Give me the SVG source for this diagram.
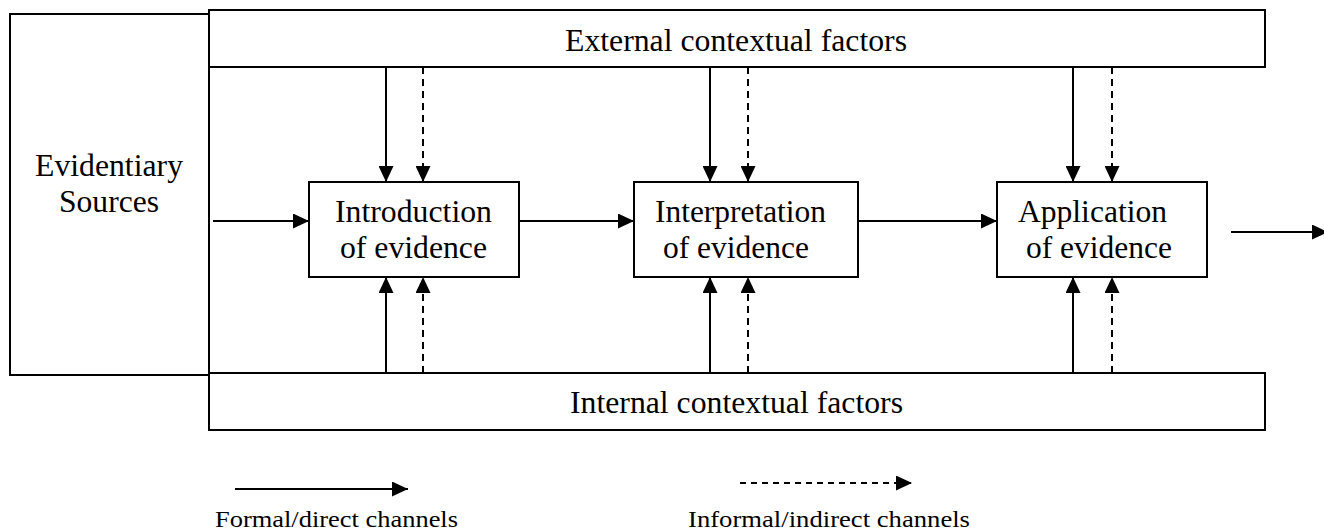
<svg xmlns="http://www.w3.org/2000/svg" width="1324" height="531" viewBox="0 0 1324 531">
<style>
.box{fill:#fff;stroke:#000;stroke-width:2}
.t{font-size:30.5px;fill:#000}
.lg{font-size:24px;fill:#000}
.c{stroke:#000;stroke-width:2;fill:none}
.d{stroke-dasharray:7,5}
.ld{stroke-dasharray:6,5}
</style>
<defs>
<marker id="ah" markerUnits="userSpaceOnUse" markerWidth="16" markerHeight="15" refX="16" refY="7.5" orient="auto">
<path d="M0,0 L16,7.5 L0,15 Z" fill="#000"/>
</marker>
</defs>
<rect width="1324" height="531" fill="#fff"/>
<g font-family="Liberation Serif, Times New Roman, serif">
<g id="evidentiary-sources">
<rect class="box" x="10" y="14" width="199" height="361"/>
<text class="t" x="35" y="176" textLength="148" lengthAdjust="spacingAndGlyphs">Evidentiary</text>
<text class="t" x="59" y="212" textLength="100" lengthAdjust="spacingAndGlyphs">Sources</text>
</g>
<g id="external">
<rect class="box" x="209" y="10" width="1056" height="57"/>
<text class="t" x="565" y="51" textLength="342" lengthAdjust="spacingAndGlyphs">External contextual factors</text>
</g>
<g id="internal">
<rect class="box" x="209" y="373" width="1056" height="57"/>
<text class="t" x="570" y="413" textLength="333" lengthAdjust="spacingAndGlyphs">Internal contextual factors</text>
</g>
<line class="c" x1="209" y1="67" x2="209" y2="373"/>
<g id="introduction">
<rect class="box" x="309" y="182" width="210" height="95"/>
<text class="t" x="335" y="222" textLength="157" lengthAdjust="spacingAndGlyphs">Introduction</text>
<text class="t" x="340" y="258" textLength="147" lengthAdjust="spacingAndGlyphs">of evidence</text>
</g>
<g id="interpretation">
<rect class="box" x="634" y="182" width="224" height="95"/>
<text class="t" x="655" y="222" textLength="171" lengthAdjust="spacingAndGlyphs">Interpretation</text>
<text class="t" x="663" y="258" textLength="146" lengthAdjust="spacingAndGlyphs">of evidence</text>
</g>
<g id="application">
<rect class="box" x="997" y="182" width="210" height="95"/>
<text class="t" x="1018" y="222" textLength="149" lengthAdjust="spacingAndGlyphs">Application</text>
<text class="t" x="1026" y="258" textLength="146" lengthAdjust="spacingAndGlyphs">of evidence</text>
</g>
<g id="connectors">
<line class="c" x1="213" y1="221" x2="309" y2="221" marker-end="url(#ah)"/>
<line class="c" x1="519" y1="221" x2="634" y2="221" marker-end="url(#ah)"/>
<line class="c" x1="858" y1="221" x2="997" y2="221" marker-end="url(#ah)"/>
<line class="c" x1="1231" y1="232" x2="1328" y2="232" marker-end="url(#ah)"/>
<line class="c" x1="386" y1="67" x2="386" y2="182" marker-end="url(#ah)"/>
<line class="c d" x1="423" y1="67" x2="423" y2="182" marker-end="url(#ah)"/>
<line class="c" x1="710" y1="67" x2="710" y2="182" marker-end="url(#ah)"/>
<line class="c d" x1="748" y1="67" x2="748" y2="182" marker-end="url(#ah)"/>
<line class="c" x1="1073" y1="67" x2="1073" y2="182" marker-end="url(#ah)"/>
<line class="c d" x1="1112" y1="67" x2="1112" y2="182" marker-end="url(#ah)"/>
<line class="c" x1="386" y1="373" x2="386" y2="277" marker-end="url(#ah)"/>
<line class="c d" x1="423" y1="373" x2="423" y2="277" marker-end="url(#ah)"/>
<line class="c" x1="710" y1="373" x2="710" y2="277" marker-end="url(#ah)"/>
<line class="c d" x1="748" y1="373" x2="748" y2="277" marker-end="url(#ah)"/>
<line class="c" x1="1073" y1="373" x2="1073" y2="277" marker-end="url(#ah)"/>
<line class="c d" x1="1112" y1="373" x2="1112" y2="277" marker-end="url(#ah)"/>
</g>
<g id="legend">
<line class="c" x1="235" y1="489" x2="408" y2="489" marker-end="url(#ah)"/>
<text class="lg" x="215" y="527" textLength="243" lengthAdjust="spacingAndGlyphs">Formal/direct channels</text>
<line class="c ld" x1="740" y1="483" x2="912" y2="483" marker-end="url(#ah)"/>
<text class="lg" x="688" y="527" textLength="282" lengthAdjust="spacingAndGlyphs">Informal/indirect channels</text>
</g>
</g>
</svg>
